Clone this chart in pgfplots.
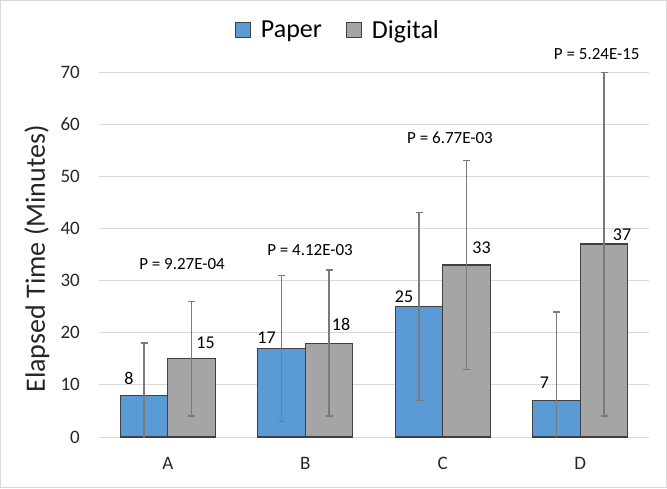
\documentclass[border=0pt]{standalone}
\usepackage{fontspec}
\setmainfont{Carlito}
\usepackage{pgfplots}
\usepackage{pgfplotstable}
\pgfplotsset{compat=1.18}
\definecolor{cpaper}{HTML}{5B9BD5}
\definecolor{cdigital}{HTML}{A5A5A5}
\definecolor{cgrid}{HTML}{D9D9D9}
\definecolor{cerr}{HTML}{7A7A7A}
\definecolor{cedge}{HTML}{404040}

\pgfplotstableread{
x y err dx dy
0 8 10 -15 17
1 17 14 -15 11
2 25 18 -15 10
3 7 17 -12 18
}\paper
\pgfplotstableread{
x y err dx dy
0 15 11 14 16
1 18 14 12 19
2 33 20 15 17
3 37 33 18 9
}\digital

\begin{document}
\begin{tikzpicture}
\useasboundingbox (0,0) rectangle (667pt,488pt);
\draw[cgrid, line width=1pt] (0.5pt,0.5pt) rectangle (666.5pt,487.5pt);
\begin{axis}[
  at={(99pt,51pt)}, anchor=south west,
  scale only axis, width=550pt, height=365pt,
  /pgf/number format/assume math mode=true,
  xmin=-0.5, xmax=3.5, ymin=0, ymax=70,
  enlargelimits=false,
  clip mode=individual,
  ybar=0pt, bar width=47.5pt,
  xtick={0,1,2,3}, xticklabels={A,B,C,D},
  ytick={0,10,...,70},
  major tick length=0pt,
  axis x line*=bottom, axis y line*=left,
  x axis line style={cgrid, line width=1pt, -},
  y axis line style={draw=none},
  ymajorgrids, grid style={cgrid, line width=0.9pt},
  tick label style={font=\fontsize{19pt}{21pt}\selectfont, black!85},
  yticklabel style={inner sep=0pt, xshift=-19pt},
  xticklabel style={inner sep=0pt, yshift=-20pt},
  ylabel={Elapsed Time (Minutes)},
  ylabel style={at={(axis description cs:-0.113,0.488)}, anchor=center, font=\fontsize{28pt}{30pt}\selectfont, black!85},
  legend style={draw=none, at={(axis description cs:0.4345,1.115)}, anchor=center,
    legend columns=2, font=\fontsize{26pt}{28pt}\selectfont,
    /tikz/every odd column/.append style={column sep=8pt},
    /tikz/every even column/.append style={column sep=22pt}},
  nodes near coords,
  nodes near coords style={font=\fontsize{18pt}{20pt}\selectfont, anchor=center, xshift=\dx*1pt, yshift=\dy*1pt},
  visualization depends on={\thisrow{dx} \as \dx},
  visualization depends on={\thisrow{dy} \as \dy},
]
\addplot[fill=cpaper, draw=cedge, line width=1.2pt,
  legend image code/.code={\draw[fill=cpaper, draw=cedge, line width=1pt] (0pt,-7.5pt) rectangle (15pt,7.5pt);},
  error bars/.cd, y dir=both, y explicit,
  error bar style={cerr, line width=1.3pt},
  error mark options={rotate=90, mark size=3.5pt, cerr, line width=1.3pt}]
  table[x=x, y=y, y error=err] {\paper};
\addlegendentry{Paper}
\addplot[fill=cdigital, draw=cedge, line width=1.2pt,
  legend image code/.code={\draw[fill=cdigital, draw=cedge, line width=1pt] (0pt,-7.5pt) rectangle (15pt,7.5pt);},
  error bars/.cd, y dir=both, y explicit,
  error bar style={cerr, line width=1.3pt},
  error mark options={rotate=90, mark size=3.5pt, cerr, line width=1.3pt}]
  table[x=x, y=y, y error=err] {\digital};
\addlegendentry{Digital}
\node[font=\fontsize{17pt}{19pt}\selectfont] at (axis cs:0.104,33.2) {P = 9.27E-04};
\node[font=\fontsize{17pt}{19pt}\selectfont] at (axis cs:1.035,35.9) {P = 4.12E-03};
\node[font=\fontsize{17pt}{19pt}\selectfont] at (axis cs:2.053,57.3) {P = 6.77E-03};
\node[font=\fontsize{17pt}{19pt}\selectfont] at (axis cs:3.12,73.5) {P = 5.24E-15};
\end{axis}
\end{tikzpicture}
\end{document}
